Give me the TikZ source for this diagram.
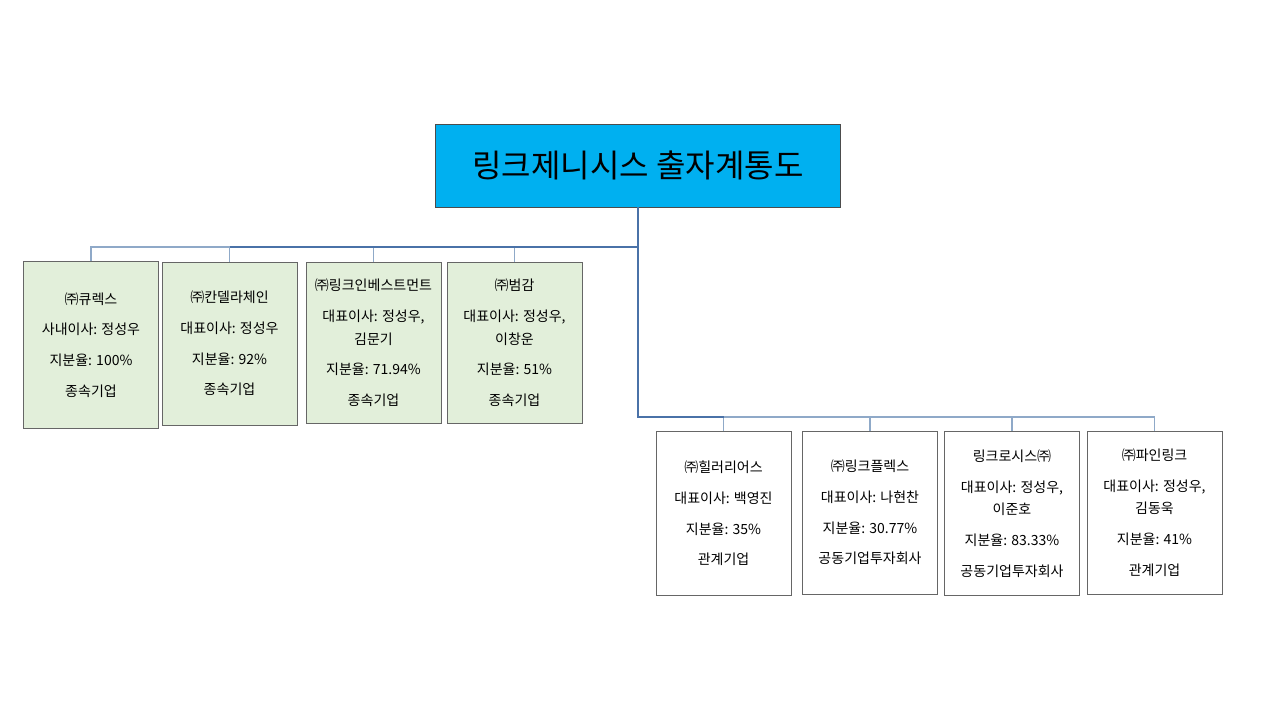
\documentclass[tikz,border=0pt]{standalone}
\usepackage{fontspec}
\setmainfont{Noto Sans CJK KR}
\begin{document}
\begin{tikzpicture}[x=0.75pt,y=-0.75pt,
    line/.style={draw=lineblue,line width=0.9pt},
    trunk/.style={draw=trunkblue,line width=1.4pt},
    sub node/.style={draw=gray!80!black,fill=subgreen,line width=0.5pt,align=center,
      minimum width=101pt,minimum height=123pt,inner sep=1pt,
      font=\fontsize{10.5}{17}\selectfont},
    rel node/.style={sub node,fill=white,minimum height=123pt}]
  \definecolor{lineblue}{HTML}{8FA9C8}
  \definecolor{trunkblue}{HTML}{4A72A8}
  \definecolor{subgreen}{HTML}{E2EFDA}
  \definecolor{titleblue}{HTML}{00B0F0}
  \useasboundingbox (0,0) rectangle (1280,720);
  \node[draw=black!70,fill=titleblue,minimum width=304pt,minimum height=62pt,
        font=\fontsize{24}{28}\selectfont] (top) at (638,165.5) {링크제니시스 출자계통도};
  % subsidiaries
  \node[sub node,minimum height=125pt] (c1) at (91,345) {㈜큐렉스\\[6pt]사내이사: 정성우\\[6pt]지분율: 100\%\\[6pt]종속기업};
  \node[sub node,minimum height=122pt] (c2) at (229.5,343.5) {㈜칸델라체인\\[6pt]대표이사: 정성우\\[6pt]지분율: 92\%\\[6pt]종속기업};
  \node[sub node,minimum height=121pt] (c3) at (373.5,343) {㈜링크인베스트먼트\\[6pt]대표이사: 정성우,\\김문기\\[6pt]지분율: 71.94\%\\[6pt]종속기업};
  \node[sub node,minimum height=121pt] (c4) at (514.5,343) {㈜범감\\[6pt]대표이사: 정성우,\\이창운\\[6pt]지분율: 51\%\\[6pt]종속기업};
  % affiliates
  \node[rel node] (r1) at (723.5,513.5) {㈜힐러리어스\\[6pt]대표이사: 백영진\\[6pt]지분율: 35\%\\[6pt]관계기업};
  \node[rel node,minimum height=122pt] (r2) at (870,512.5) {㈜링크플렉스\\[6pt]대표이사: 나현찬\\[6pt]지분율: 30.77\%\\[6pt]공동기업투자회사};
  \node[rel node] (r3) at (1012,513.5) {링크로시스㈜\\[6pt]대표이사: 정성우,\\이준호\\[6pt]지분율: 83.33\%\\[6pt]공동기업투자회사};
  \node[rel node,minimum height=122pt] (r4) at (1154.5,512.5) {㈜파인링크\\[6pt]대표이사: 정성우,\\김동욱\\[6pt]지분율: 41\%\\[6pt]관계기업};
  \coordinate (j1) at (638,247);
  \coordinate (j2) at (638,417);
  \foreach \n in {c1,c2,c3,c4}
    \draw[line] (\n.north) -- (\n.north |- j1) -- (j1);
  \foreach \n in {r1,r2,r3,r4}
    \draw[line] (\n.north) -- (\n.north |- j2) -- (j2);
  \draw[trunk] (top.south) -- (j2) -- (r1.north |- j2);
  \draw[trunk] (j1) -- (c2.north |- j1);
\end{tikzpicture}
\end{document}
